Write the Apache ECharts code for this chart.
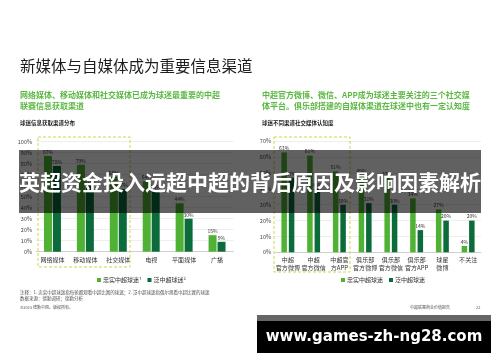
<!DOCTYPE html>
<html><head><meta charset="utf-8">
<script src="https://cdn.jsdelivr.net/npm/echarts@6/dist/echarts.min.js"></script>
<style>html,body{margin:0;padding:0;background:#fff}#c{width:500px;height:362px}</style>
</head><body><div id="c"></div>
<script>
// Left chart data
var leftCategories = ['网络媒体','移动媒体','社交媒体','电视','平面媒体','广播'];
var leftLoyal = [87, 79, 68, 64, 44, 15];
var leftGeneral = [78, 61, 57, 55, 30, 9];
var leftTicks = [0,10,20,30,40,50,60,70,80,90,100];
// Right chart data
var rightCategories = ['中超\n官方微博','中超\n官方微信','中超官\n方APP','俱乐部\n官方微博','俱乐部\n官方微信','俱乐部\n官方APP','球星\n微博','不关注'];
var rightLoyal = [63, 61, 51, 49, 47, 34, 27, 4];
var rightGeneral = [47, 40, 30, 31, 30, 14, 20, 20];
var rightTicks = [0,10,20,30,40,50,60,70];
var leftSeriesNames = ['忠实中超球迷¹','泛中超球迷²'];
var rightSeriesNames = ['忠实中超球迷','泛中超球迷'];

var FONT = '"Noto Sans CJK SC", "Noto Sans", sans-serif';
var LIGHT = '#4fb234', DARK = '#0b6b3a';
var chart = echarts.init(document.getElementById('c'), null, {renderer:'canvas'});

function yAxis(idx, maxV){
  return {gridIndex: idx, type:'value', min:0, max:maxV, interval:10,
    axisLabel:{formatter:'{value}%', fontSize:5.5, color:'#444', fontFamily:FONT, margin:4},
    splitLine:{lineStyle:{color:'#e3e3e3', width:0.6}},
    axisLine:{show:false}, axisTick:{show:false}};
}
function xAxis(idx, cats){
  return {gridIndex: idx, type:'category', data:cats,
    axisLabel:{fontSize:6, color:'#333', fontFamily:FONT, margin:4, lineHeight:7.5, interval:0},
    axisLine:{lineStyle:{color:'#bbb', width:0.6}}, axisTick:{show:false}};
}
function barSeries(name, data, idx, color, w, gap){
  return {name:name, type:'bar', xAxisIndex:idx, yAxisIndex:idx, data:data,
    barWidth:w, barGap:gap, itemStyle:{color:color},
    label:{show:true, position:'top', distance:1.5, formatter:'{c}%', fontSize:5, color:'#333', fontFamily:FONT},
    z:2};
}

chart.setOption({
  animation:false,
  textStyle:{fontFamily:FONT},
  grid:[
    {left:36, width:197.5, top:141.7, height:110},
    {left:275, width:206, top:141.3, height:111}
  ],
  xAxis:[xAxis(0,leftCategories), xAxis(1,rightCategories)],
  yAxis:[yAxis(0,100), yAxis(1,70)],
  legend:[
    {data:leftSeriesNames, left:92, top:272, icon:'rect', itemWidth:4, itemHeight:4, itemGap:6,
      textStyle:{fontSize:6, color:'#333', fontFamily:FONT, padding:[0,0,0,-3]}},
    {data:rightSeriesNames, left:336, top:272, icon:'rect', itemWidth:4, itemHeight:4, itemGap:6,
      textStyle:{fontSize:6, color:'#333', fontFamily:FONT, padding:[0,0,0,-3]}}
  ],
  series:[
    barSeries(leftSeriesNames[0], leftLoyal, 0, LIGHT, 8, '12%'),
    barSeries(leftSeriesNames[1], leftGeneral, 0, DARK, 8, '12%'),
    barSeries(rightSeriesNames[0], rightLoyal, 1, LIGHT, 5.5, '35%'),
    barSeries(rightSeriesNames[1], rightGeneral, 1, DARK, 5.5, '35%')
  ],
  graphic:[
    {type:'text', left:20, top:58, style:{text:'新媒体与自媒体成为重要信息渠道', font:'15.5px '+FONT, fill:'#1e1e1e'}},
    {type:'text', left:20, top:89, style:{text:'网络媒体、移动媒体和社交媒体已成为球迷最重要的中超\n联赛信息获取渠道', font:'bold 8px '+FONT, fill:'#5cb844', lineHeight:11}},
    {type:'text', left:20, top:120, style:{text:'球迷信息获取渠道分布', font:'bold 5.5px '+FONT, fill:'#222'}},
    {type:'text', left:262, top:89, style:{text:'中超官方微博、微信、APP成为球迷主要关注的三个社交媒\n体平台。俱乐部搭建的自媒体渠道在球迷中也有一定认知度', font:'bold 8px '+FONT, fill:'#5cb844', lineHeight:11}},
    {type:'text', left:262, top:120, style:{text:'球迷不同渠道社交媒体认知度', font:'bold 5.5px '+FONT, fill:'#222'}},
    {type:'rect', shape:{x:38, y:137, width:92, height:130}, style:{fill:'none', stroke:'#cbd94a', lineWidth:1, lineDash:[3,2]}, z:5},
    {type:'rect', shape:{x:274, y:137, width:76, height:135}, style:{fill:'none', stroke:'#cbd94a', lineWidth:1, lineDash:[3,2]}, z:5},
    {type:'text', left:20, top:289, style:{text:'注释：1. 忠实中超球迷指每轮都观看中超比赛的球迷；2. 泛中超球迷指偶尔观看中超比赛的球迷\n数据来源：德勤调研；德勤分析', font:'4.5px '+FONT, fill:'#555', lineHeight:6.5}},
    {type:'text', left:20, top:305, style:{text:'©2015 德勤中国。版权所有。', font:'4px '+FONT, fill:'#555'}},
    {type:'text', left:410, top:305, style:{text:'中超联赛商业价值报告', font:'4px '+FONT, fill:'#555'}},
    {type:'text', left:476, top:305, style:{text:'22', font:'4px '+FONT, fill:'#555'}},
    {type:'rect', shape:{x:19, y:150, width:462, height:63}, style:{fill:'rgba(0,0,0,0.62)'}, z:50},
    {type:'text', x:250, y:182, style:{text:'英超资金投入远超中超的背后原因及影响因素解析', font:'bold 21px '+FONT, fill:'#fff', align:'center', verticalAlign:'middle'}, z:51},
    {type:'rect', shape:{x:257, y:315, width:234, height:6}, style:{fill:'#666'}, z:50},
    {type:'rect', shape:{x:257, y:321, width:234, height:32}, style:{fill:'#000'}, z:50},
    {type:'text', x:374, y:337, style:{text:'www.games-zh-ng28.com', font:'bold 15px "DejaVu Sans", sans-serif', fill:'#fff', align:'center', verticalAlign:'middle'}, z:51}
  ]
});
</script></body></html>
